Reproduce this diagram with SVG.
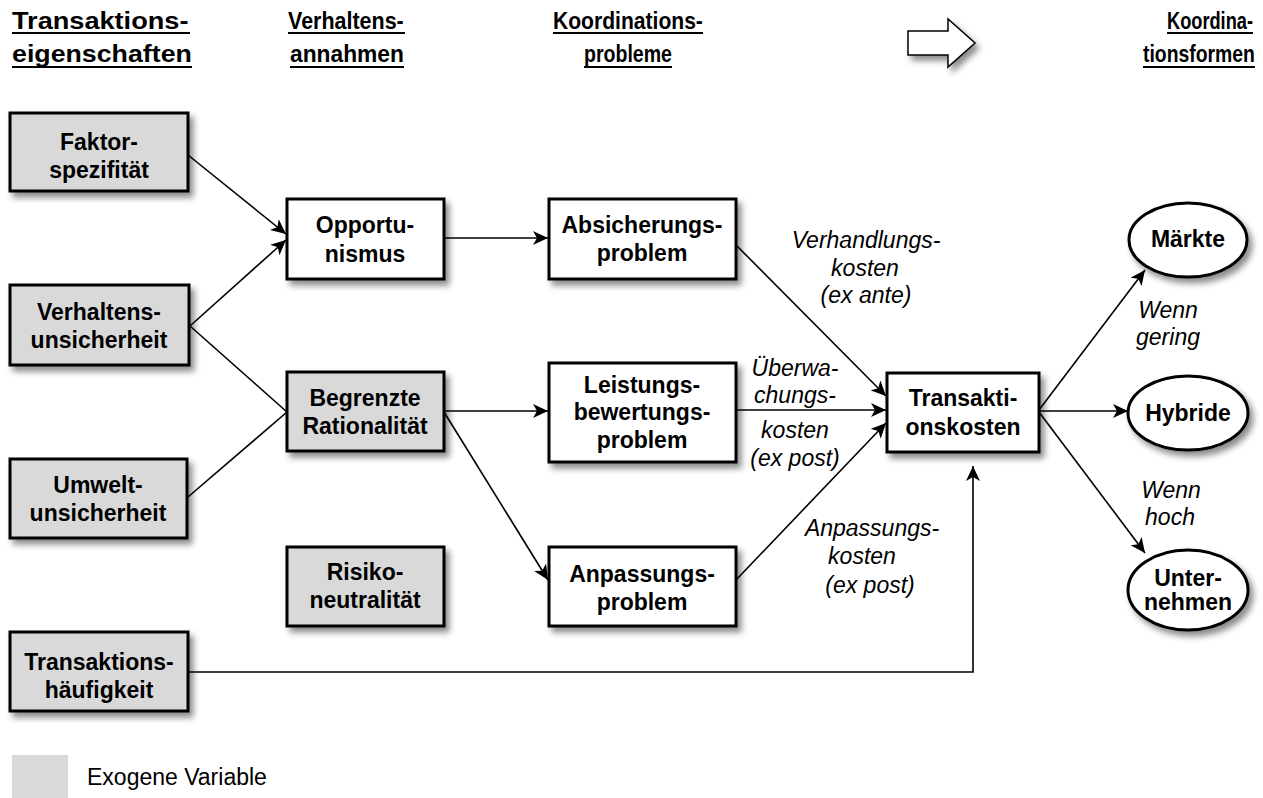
<svg xmlns="http://www.w3.org/2000/svg" width="1263" height="798" viewBox="0 0 1263 798">
  <defs>
    <filter id="shadow" x="-20%" y="-20%" width="150%" height="160%">
      <feDropShadow dx="4" dy="5" stdDeviation="3" flood-color="#000" flood-opacity="0.45"/>
    </filter>
    <marker id="arrow" markerUnits="userSpaceOnUse" markerWidth="16" markerHeight="14" refX="15" refY="7" orient="auto">
      <path d="M0,0 L15,7 L0,14 L4,7 Z" fill="#000"/>
    </marker>
    <style>
      .box { stroke: #000; stroke-width: 3; filter: url(#shadow); }
      .exo { fill: #d9d9d9; }
      .endo { fill: #fff; }
      .lbl { font-family: "Liberation Sans", Arial, sans-serif; font-weight: bold; font-size: 23px; text-anchor: middle; fill: #000; }
      .hdr { font-family: "Liberation Sans", Arial, sans-serif; font-weight: bold; font-size: 24px; fill: #000; }
      .it { font-family: "Liberation Sans", Arial, sans-serif; font-style: italic; font-size: 23px; text-anchor: middle; fill: #000; }
      .ul { stroke: #000; stroke-width: 2.2; }
      .con { fill: none; stroke: #000; stroke-width: 1.6; }
    </style>
  </defs>

  <rect width="1263" height="798" fill="#fff"/>

  <!-- column headings (each line scaled horizontally to its column width) -->
  <g id="headings">
    <text class="hdr" transform="translate(12,29) scale(1.131,1)">Transaktions-</text>
    <line class="ul" x1="12" y1="33" x2="190" y2="33"/>
    <text class="hdr" transform="translate(12,62) scale(1.115,1)">eigenschaften</text>
    <line class="ul" x1="12" y1="67" x2="192" y2="67"/>

    <text class="hdr" transform="translate(288,29) scale(0.895,1)">Verhaltens-</text>
    <line class="ul" x1="288" y1="33" x2="405" y2="33"/>
    <text class="hdr" transform="translate(290,62) scale(0.95,1)">annahmen</text>
    <line class="ul" x1="290" y1="67" x2="404" y2="67"/>

    <text class="hdr" transform="translate(553,29) scale(0.879,1)">Koordinations-</text>
    <line class="ul" x1="553" y1="33" x2="703" y2="33"/>
    <text class="hdr" transform="translate(584,62) scale(0.815,1)">probleme</text>
    <line class="ul" x1="584" y1="67" x2="672" y2="67"/>

    <text class="hdr" transform="translate(1167,29) scale(0.759,1)">Koordina-</text>
    <line class="ul" x1="1167" y1="33" x2="1253" y2="33"/>
    <text class="hdr" transform="translate(1143,62) scale(0.808,1)">tionsformen</text>
    <line class="ul" x1="1143" y1="67" x2="1255" y2="67"/>

    <path class="box endo" d="M908,31 L948,31 L948,19 L975,43 L948,67 L948,55 L908,55 Z" style="stroke-width:1.5"/>
  </g>

  <!-- connectors -->
  <g id="connectors">
    <line class="con" x1="188" y1="155" x2="286" y2="234" marker-end="url(#arrow)"/>
    <line class="con" x1="190" y1="326" x2="286" y2="240" marker-end="url(#arrow)"/>
    <line class="con" x1="190" y1="326" x2="287" y2="412"/>
    <line class="con" x1="188" y1="497" x2="287" y2="412"/>
    <line class="con" x1="444" y1="238" x2="548" y2="238" marker-end="url(#arrow)"/>
    <line class="con" x1="444" y1="411" x2="548" y2="411" marker-end="url(#arrow)"/>
    <line class="con" x1="444" y1="412" x2="548" y2="580" marker-end="url(#arrow)"/>
    <line class="con" x1="736" y1="245" x2="886" y2="396" marker-end="url(#arrow)"/>
    <line class="con" x1="736" y1="410" x2="886" y2="410" marker-end="url(#arrow)"/>
    <line class="con" x1="736" y1="580" x2="886" y2="423" marker-end="url(#arrow)"/>
    <polyline class="con" points="188,672 973,672 973,466" marker-end="url(#arrow)"/>
    <line class="con" x1="1039" y1="410" x2="1145" y2="270" marker-end="url(#arrow)"/>
    <line class="con" x1="1039" y1="411" x2="1128" y2="411" marker-end="url(#arrow)"/>
    <line class="con" x1="1039" y1="412" x2="1145" y2="553" marker-end="url(#arrow)"/>
  </g>

  <!-- connector labels -->
  <g id="labels">
    <text class="it" x="866" y="248">Verhandlungs-</text>
    <text class="it" x="865" y="276">kosten</text>
    <text class="it" x="866" y="303">(ex ante)</text>

    <text class="it" x="795" y="376">Überwa-</text>
    <text class="it" x="795" y="403">chungs-</text>
    <text class="it" x="795" y="438">kosten</text>
    <text class="it" x="795" y="466">(ex post)</text>

    <text class="it" x="872" y="536">Anpassungs-</text>
    <text class="it" x="862" y="564">kosten</text>
    <text class="it" x="870" y="593">(ex post)</text>

    <text class="it" x="1168" y="318">Wenn</text>
    <text class="it" x="1168" y="345">gering</text>

    <text class="it" x="1171" y="498">Wenn</text>
    <text class="it" x="1170" y="525">hoch</text>
  </g>

  <!-- transaction characteristics -->
  <g id="faktorspezifitaet">
    <rect class="box exo" x="10" y="113" width="178" height="78"/>
    <text class="lbl" x="99" y="150">Faktor-</text>
    <text class="lbl" x="99" y="178">spezifität</text>
  </g>
  <g id="verhaltensunsicherheit">
    <rect class="box exo" x="10" y="285" width="179" height="80"/>
    <text class="lbl" x="99" y="320">Verhaltens-</text>
    <text class="lbl" x="99" y="348">unsicherheit</text>
  </g>
  <g id="umweltunsicherheit">
    <rect class="box exo" x="10" y="459" width="177" height="79"/>
    <text class="lbl" x="98" y="493">Umwelt-</text>
    <text class="lbl" x="98" y="521">unsicherheit</text>
  </g>
  <g id="transaktionshaeufigkeit">
    <rect class="box exo" x="10" y="632" width="178" height="79"/>
    <text class="lbl" x="99" y="670">Transaktions-</text>
    <text class="lbl" x="99" y="698">häufigkeit</text>
  </g>

  <!-- behavioural assumptions -->
  <g id="opportunismus">
    <rect class="box endo" x="287" y="199" width="157" height="80"/>
    <text class="lbl" x="365" y="233">Opportu-</text>
    <text class="lbl" x="365" y="262">nismus</text>
  </g>
  <g id="begrenzte-rationalitaet">
    <rect class="box exo" x="287" y="372" width="157" height="79"/>
    <text class="lbl" x="365" y="406">Begrenzte</text>
    <text class="lbl" x="365" y="434">Rationalität</text>
  </g>
  <g id="risikoneutralitaet">
    <rect class="box exo" x="287" y="547" width="157" height="79"/>
    <text class="lbl" x="365" y="580">Risiko-</text>
    <text class="lbl" x="365" y="608">neutralität</text>
  </g>

  <!-- coordination problems -->
  <g id="absicherungsproblem">
    <rect class="box endo" x="549" y="199" width="187" height="80"/>
    <text class="lbl" x="642" y="233">Absicherungs-</text>
    <text class="lbl" x="642" y="261">problem</text>
  </g>
  <g id="leistungsbewertungsproblem">
    <rect class="box endo" x="549" y="363" width="187" height="99"/>
    <text class="lbl" x="642" y="393">Leistungs-</text>
    <text class="lbl" x="642" y="420">bewertungs-</text>
    <text class="lbl" x="642" y="448">problem</text>
  </g>
  <g id="anpassungsproblem">
    <rect class="box endo" x="549" y="547" width="187" height="79"/>
    <text class="lbl" x="642" y="582">Anpassungs-</text>
    <text class="lbl" x="642" y="610">problem</text>
  </g>

  <!-- transaction costs -->
  <g id="transaktionskosten">
    <rect class="box endo" x="887" y="373" width="152" height="79"/>
    <text class="lbl" x="963" y="406">Transakti-</text>
    <text class="lbl" x="963" y="435">onskosten</text>
  </g>

  <!-- coordination forms -->
  <g id="maerkte">
    <ellipse class="box endo" cx="1188" cy="240" rx="59" ry="37"/>
    <text class="lbl" x="1188" y="247">Märkte</text>
  </g>
  <g id="hybride">
    <ellipse class="box endo" cx="1188" cy="413" rx="60" ry="37"/>
    <text class="lbl" x="1188" y="421">Hybride</text>
  </g>
  <g id="unternehmen">
    <ellipse class="box endo" cx="1188" cy="590" rx="60" ry="40"/>
    <text class="lbl" x="1188" y="586">Unter-</text>
    <text class="lbl" x="1188" y="610">nehmen</text>
  </g>

  <!-- legend -->
  <g id="legend">
    <rect x="12" y="755" width="56" height="43" fill="#d9d9d9"/>
    <text x="87" y="785" font-family="Liberation Sans, Arial, sans-serif" font-size="23" fill="#000">Exogene Variable</text>
  </g>
</svg>
